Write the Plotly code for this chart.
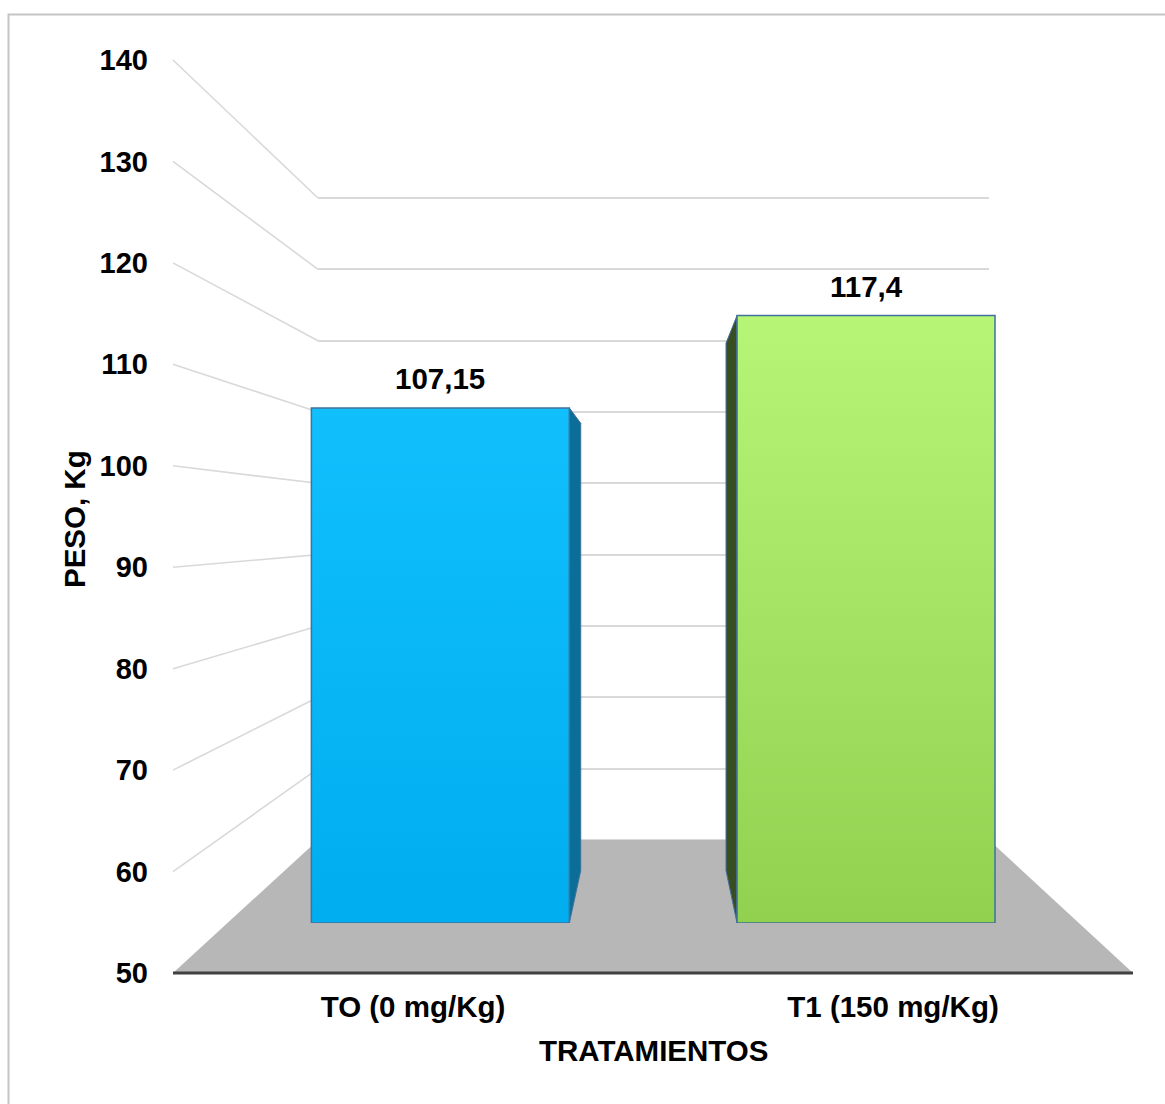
import plotly.graph_objects as go

# ---- data ----
categories = ["TO (0 mg/Kg)", "T1 (150 mg/Kg)"]
peso = [107.15, 117.4]
y_ticks = [50, 60, 70, 80, 90, 100, 110, 120, 130, 140]

# ---- styling ----
front_colors = [("#00AEEF", "#10BFFC"), ("#92D050", "#B6F576")]  # (bottom, top)
side_colors = ["#0B6E99", "#384E22"]
edge_color = "#41719C"
grid_color = "#D9D9D9"
floor_color = "#B7B7B7"
font_family = "Liberation Sans, Arial, sans-serif"

W, H = 1165, 1104
V_MIN, V_MAX = 50, 140
U_MIN, U_MAX = -0.5, 1.5

# 3D box geometry in pixels: (left, right, y of V_MIN, y of V_MAX)
FRONT = (173, 1133, 973, 60)
BACK = (318, 989, 840, 198)
D_BAR_FRONT, D_BAR_BACK = 0.376, 0.77
HALF = 0.303


def plane(d):
    return tuple(f + (b - f) * d for f, b in zip(FRONT, BACK))


def project(u, v, d):
    left, right, ybot, ytop = plane(d)
    x = left + (u - U_MIN) / (U_MAX - U_MIN) * (right - left)
    y = ybot + (v - V_MIN) / (V_MAX - V_MIN) * (ytop - ybot)
    return x, y


def dom(d, lo=V_MIN, hi=V_MAX):
    """Paper-space domains of the depth-d plane for a value range [lo, hi]."""
    left, right, _, _ = plane(d)
    _, ylo = project(U_MIN, lo, d)
    _, yhi = project(U_MIN, hi, d)
    return [left / W, right / W], [1 - ylo / H, 1 - yhi / H]


def path(points):
    xs, ys = [], []
    for u, v, d in points:
        x, y = project(u, v, d)
        xs.append(x)
        ys.append(y)
    return xs, ys


fig = go.Figure()
hidden = dict(visible=False)

# subplot xy: back wall gridlines (range padded so the edge lines are kept)
PAD = 1.0
back_range = [V_MIN - PAD, V_MAX + PAD]
bx, by = dom(1.0, *back_range)
fig.add_trace(go.Scatter(x=[None], y=[None], xaxis="x", yaxis="y",
                         showlegend=False, hoverinfo="skip"))

# subplot x2y2: projected geometry (side wall, floor, bar sides)
wx, wy = [], []
for v in y_ticks[1:]:
    xs, ys = path([(U_MIN, v, 0.0), (U_MIN, v, 1.0)])
    wx += xs + [None]
    wy += ys + [None]
fig.add_trace(go.Scatter(x=wx, y=wy, xaxis="x2", yaxis="y2", mode="lines",
                         line=dict(color=grid_color, width=1.6),
                         showlegend=False, hoverinfo="skip"))

fx, fy = path([(U_MIN, V_MIN, 0), (U_MAX, V_MIN, 0), (U_MAX, V_MIN, 1),
               (U_MIN, V_MIN, 1), (U_MIN, V_MIN, 0)])
fig.add_trace(go.Scatter(x=fx, y=fy, xaxis="x2", yaxis="y2", mode="lines",
                         fill="toself", fillcolor=floor_color,
                         line=dict(width=0, color=floor_color),
                         showlegend=False, hoverinfo="skip"))

ex, ey = path([(U_MIN, V_MIN, 0), (U_MAX, V_MIN, 0)])
fig.add_trace(go.Scatter(x=ex, y=ey, xaxis="x2", yaxis="y2", mode="lines",
                         line=dict(color="#404040", width=3),
                         showlegend=False, hoverinfo="skip"))

n = len(peso)
for i, v in enumerate(peso):
    u = i + HALF if i < (n - 1) / 2 else i - HALF
    sx, sy = path([(u, V_MIN, D_BAR_FRONT), (u, v, D_BAR_FRONT),
                   (u, v, D_BAR_BACK), (u, V_MIN, D_BAR_BACK),
                   (u, V_MIN, D_BAR_FRONT)])
    fig.add_trace(go.Scatter(x=sx, y=sy, xaxis="x2", yaxis="y2", mode="lines",
                             fill="toself", fillcolor=side_colors[i],
                             line=dict(color=edge_color, width=1),
                             showlegend=False, hoverinfo="skip"))

label_font = dict(family=font_family, size=29.5, color="black", weight="bold")
tick_font = dict(family=font_family, size=29, color="black", weight="bold")

# subplot x3y3: bar front faces
cx, cy = dom(D_BAR_FRONT)
for i, v in enumerate(peso):
    bot, top = front_colors[i]
    fig.add_trace(go.Scatter(
        x=[i - HALF, i + HALF, i + HALF, i - HALF, i - HALF],
        y=[V_MIN, V_MIN, v, v, V_MIN],
        xaxis="x3", yaxis="y3", mode="lines", fill="toself",
        fillgradient=dict(type="vertical", start=V_MIN, stop=v,
                          colorscale=[[0, bot], [1, top]]),
        line=dict(color=edge_color, width=1.5),
        showlegend=False, hoverinfo="skip", name=categories[i]))
    fig.add_annotation(x=i, y=v, xref="x3", yref="y3",
                       text=f"{v:g}".replace(".", ","), showarrow=False,
                       xanchor="center", yanchor="middle", yshift=29,
                       font=label_font)

# subplot x4y4: front axis with tick labels
ax, ay = dom(0.0)
fig.add_trace(go.Scatter(x=[None], y=[None], xaxis="x4", yaxis="y4",
                         showlegend=False, hoverinfo="skip"))

fig.update_layout(
    width=W, height=H,
    margin=dict(l=0, r=0, t=0, b=0),
    paper_bgcolor="white", plot_bgcolor="rgba(0,0,0,0)",
    showlegend=False,
    xaxis=dict(domain=bx, range=[U_MIN, U_MAX], anchor="y", visible=False),
    yaxis=dict(domain=by, range=back_range, anchor="x", tickvals=y_ticks,
               showgrid=True, gridcolor=grid_color, gridwidth=2,
               showticklabels=False, zeroline=False, showline=False, ticks="",
               automargin=False),
    xaxis2=dict(domain=[0, 1], range=[0, W], anchor="y2", **hidden),
    yaxis2=dict(domain=[0, 1], range=[H, 0], anchor="x2", **hidden),
    xaxis3=dict(domain=cx, range=[U_MIN, U_MAX], anchor="y3", **hidden),
    yaxis3=dict(domain=cy, range=[V_MIN, V_MAX], anchor="x3", **hidden),
    xaxis4=dict(domain=ax, range=[U_MIN, U_MAX], anchor="y4",
                tickvals=list(range(len(categories))), ticktext=categories,
                showgrid=False, zeroline=False, showline=False, ticks="",
                tickfont=label_font, ticklabelstandoff=13, automargin=False),
    yaxis4=dict(domain=ay, range=[V_MIN, V_MAX], anchor="x4",
                tickvals=y_ticks, showgrid=False, zeroline=False,
                showline=False, ticks="", tickfont=tick_font,
                ticklabelstandoff=24, automargin=False),
)

# axis titles
fig.add_annotation(x=75 / W, y=1 - 519 / H, xref="paper", yref="paper",
                   xanchor="center", yanchor="middle",
                   text="PESO, Kg", textangle=-90, showarrow=False,
                   font=label_font)
fig.add_annotation(x=653 / W, y=1 - 1050 / H, xref="paper", yref="paper",
                   xanchor="center", yanchor="middle",
                   text="TRATAMIENTOS", showarrow=False, font=label_font)

# chart area border
fig.add_shape(type="rect", xref="paper", yref="paper",
              x0=8.5 / W, x1=1.02, y0=-0.02, y1=1 - 14.5 / H,
              line=dict(color="#C4C4C4", width=2), fillcolor="rgba(0,0,0,0)",
              layer="below")

fig.write_html("out.html")
